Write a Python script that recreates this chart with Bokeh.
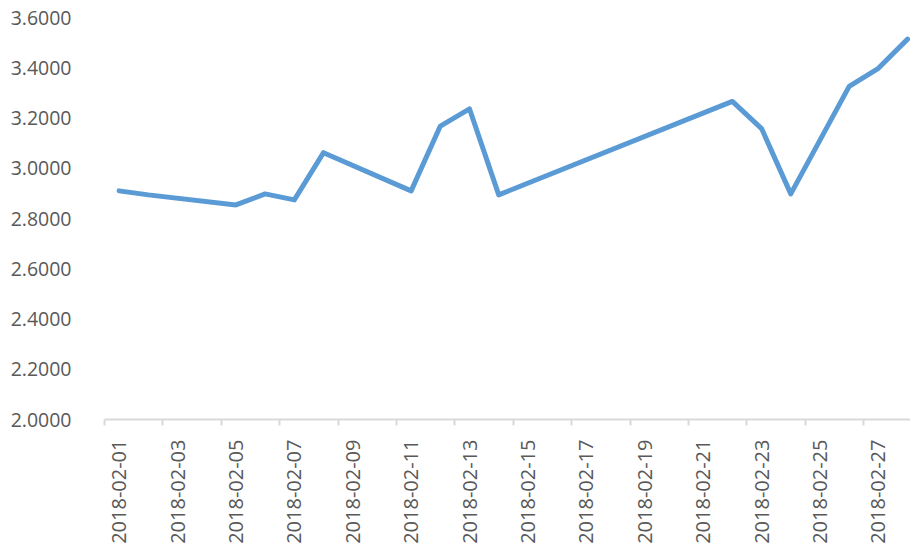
import pandas as pd
from bokeh.plotting import figure
from bokeh.models import FixedTicker, ColumnDataSource
from bokeh.embed import file_html
from bokeh.resources import INLINE

# Data
dates = ["2018-02-01", "2018-02-02", "2018-02-05", "2018-02-06", "2018-02-07",
         "2018-02-08", "2018-02-11", "2018-02-12", "2018-02-13", "2018-02-14",
         "2018-02-22", "2018-02-23", "2018-02-24", "2018-02-26", "2018-02-27",
         "2018-02-28"]
values = [2.910, 2.894, 2.854, 2.898, 2.874,
          3.062, 2.910, 3.168, 3.236, 2.894,
          3.266, 3.158, 2.898, 3.326, 3.398,
          3.514]
x_tick_labels = ["2018-02-01", "2018-02-03", "2018-02-05", "2018-02-07", "2018-02-09",
                 "2018-02-11", "2018-02-13", "2018-02-15", "2018-02-17", "2018-02-19",
                 "2018-02-21", "2018-02-23", "2018-02-25", "2018-02-27"]
y_ticks = [2.0, 2.2, 2.4, 2.6, 2.8, 3.0, 3.2, 3.4, 3.6]

# day-of-month positions (each day occupies a slot of width 1 centred on its number)
start = pd.Timestamp("2018-01-31")
xs = [(pd.Timestamp(d) - start).days for d in dates]
label_pos = [(pd.Timestamp(d) - start).days for d in x_tick_labels]
boundaries = [p - 0.5 for p in label_pos]

src = ColumnDataSource(dict(x=xs, y=values))

TEXT = "#595959"
FONT = "Open Sans"

p = figure(width=910, height=546, output_backend="svg", toolbar_location=None,
           x_range=(0.5, 28.1), y_range=(2.0, 3.6),
           min_border_left=104, min_border_right=0, min_border_top=17, min_border_bottom=127)
p.outline_line_color = None
p.background_fill_color = "white"
p.border_fill_color = "white"
p.grid.visible = False

p.line("x", "y", source=src, line_color="#5B9BD5", line_width=5,
       line_join="round", line_cap="round")

xa = p.xaxis[0]
xa.ticker = FixedTicker(ticks=label_pos, minor_ticks=boundaries)
xa.major_label_overrides = {p_: lab for p_, lab in zip(label_pos, x_tick_labels)}
xa.major_label_orientation = 1.5707963
xa.major_tick_out = 0
xa.major_tick_in = 0
xa.minor_tick_out = 6
xa.minor_tick_in = 0
xa.minor_tick_line_color = "#D9D9D9"
xa.minor_tick_line_width = 2
xa.axis_line_color = "#D9D9D9"
xa.axis_line_width = 2
xa.major_label_text_font = FONT
xa.major_label_text_font_size = "20px"
xa.major_label_text_color = TEXT
xa.major_label_standoff = 14

ya = p.yaxis[0]
ya.ticker = FixedTicker(ticks=y_ticks)
ya.major_label_overrides = {v: f"{v:.4f}" for v in y_ticks}
ya.axis_line_color = None
ya.major_tick_line_color = None
ya.minor_tick_line_color = None
ya.major_label_text_font = FONT
ya.major_label_text_font_size = "19.5px"
ya.major_label_text_color = TEXT
ya.major_label_standoff = 27

open("out.html", "w").write(file_html(p, INLINE))
